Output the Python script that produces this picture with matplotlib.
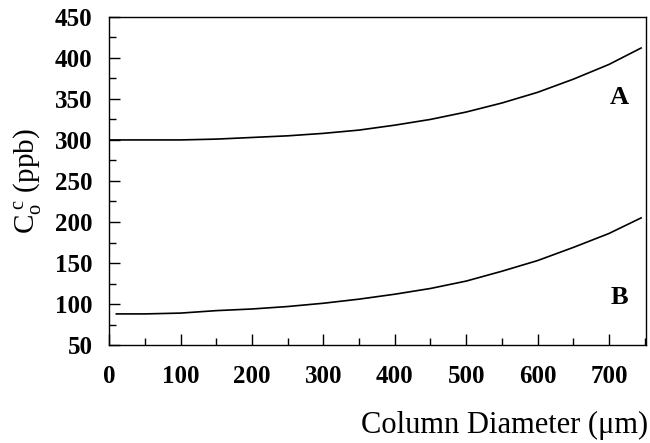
import numpy as np
import matplotlib
matplotlib.use('Agg')
import matplotlib.pyplot as plt
from matplotlib.ticker import MultipleLocator

#==============================================================================
# Data
#==============================================================================
diam_a = [0, 50, 100, 150, 200, 250, 300, 350, 400, 450, 500, 550, 600, 650, 700, 745]
conc_a = [300, 300, 300, 301, 303, 305, 308, 312, 318, 325, 334, 345, 358, 374, 392, 412]

diam_b = [10, 50, 100, 150, 200, 250, 300, 350, 400, 450, 500, 550, 600, 650, 700, 745]
conc_b = [88, 88, 89, 92, 94, 97, 101, 106, 112, 119, 128, 140, 153, 169, 186, 205]

curve_labels = ['A', 'B']
label_pos = [(715, 352), (715, 108)]

#==============================================================================
# Plot
#==============================================================================
plt.rcParams['font.family'] = 'Liberation Serif'
plt.rcParams['mathtext.fontset'] = 'custom'
plt.rcParams['mathtext.rm'] = 'Liberation Serif'
plt.rcParams['mathtext.it'] = 'Liberation Serif'

fig = plt.figure(figsize=(6.5, 4.43), dpi=100)
ax = fig.add_axes([0.168, 0.221, 0.826, 0.741])

ax.plot(diam_a, conc_a, color='black', lw=1.2)
ax.plot(diam_b, conc_b, color='black', lw=1.2)
for lab, (x, y) in zip(curve_labels, label_pos):
    ax.text(x, y, lab, fontsize=19, fontweight='bold', ha='center', va='center')

ax.set_xlim(0, 752)
ax.set_ylim(50, 450)
ax.xaxis.set_major_locator(MultipleLocator(100))
ax.xaxis.set_minor_locator(MultipleLocator(50))
ax.yaxis.set_major_locator(MultipleLocator(50))
ax.yaxis.set_minor_locator(MultipleLocator(25))
ax.set_xticks(np.arange(0, 701, 100))

ax.tick_params(which='both', direction='in', top=False, right=False, width=1)
ax.tick_params(which='major', length=8)
ax.tick_params(which='minor', length=5)
ax.tick_params(axis='x', pad=14, labelsize=18)
ax.tick_params(axis='y', pad=12, labelsize=18)
for t in ax.get_xticklabels() + ax.get_yticklabels():
    t.set_fontweight('bold')

for s in ax.spines.values():
    s.set_linewidth(1)

ax.set_ylabel(r'C$_\mathregular{o}^{\ \mathregular{c}}$ (ppb)', fontsize=21, labelpad=8)
fig.text(0.997, 0.022, 'Column Diameter (\u03bcm)', fontsize=22, ha='right', va='baseline')

plt.savefig('out.png', dpi=100)
